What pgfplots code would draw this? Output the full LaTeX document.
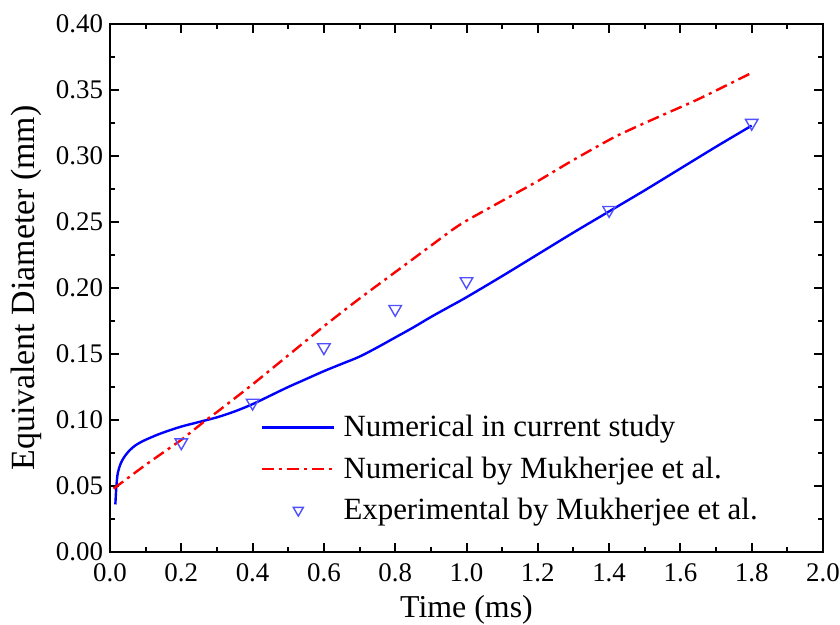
\documentclass[border=0pt]{standalone}
\usepackage{fontspec}
\setmainfont{Liberation Serif}
\usepackage{pgfplots}
\pgfplotsset{compat=1.18}
\definecolor{lineblue}{RGB}{0,0,255}
\definecolor{markblue}{RGB}{80,80,255}
\definecolor{linered}{RGB}{255,0,0}
\pgfplotsset{
  linelegend/.style={legend image code/.code={\draw[##1] (0bp,0bp) -- (36bp,0bp);}},
  marklegend/.style={legend image code/.code={\draw[##1, mark size=2.9bp] plot coordinates {(18bp,0bp)};}},
}
\begin{document}
\begin{tikzpicture}
\begin{axis}[
  scale only axis,
  width=356.5bp, height=264bp,
  xmin=0, xmax=2.0, ymin=0, ymax=0.40,
  xtick={0,0.2,...,2.01}, ytick={0,0.05,...,0.401},
  minor x tick num=1, minor y tick num=1,
  tick align=inside,
  major tick length=4.5bp, minor tick length=2.5bp,
  axis line style={line width=1.1bp},
  every tick/.style={black, line width=1bp},
  /pgf/number format/assume math mode=true,
  xticklabel style={yshift=-2.5bp, /pgf/number format/.cd, fixed, fixed zerofill, precision=1},
  yticklabel style={/pgf/number format/.cd, fixed, fixed zerofill, precision=2},
  tick label style={font=\fontsize{13.5}{15}\selectfont},
  xlabel={Time (ms)}, ylabel={Equivalent Diameter (mm)},
  xlabel style={font=\fontsize{16}{18}\selectfont, yshift=0.5bp},
  ylabel style={font=\fontsize{17}{19}\selectfont, xshift=0bp},
  legend style={at={(rel axis cs:0.203,0.04)}, anchor=south west, draw=none, fill=none,
    font=\fontsize{15.5}{18}\selectfont, row sep=4.5bp,
    nodes={inner xsep=4bp}},
  legend cell align=left,
]
\addplot[lineblue, line width=1.2bp, smooth, tension=0.5, linelegend] coordinates {
(0.015,0.036)(0.018,0.05)(0.022,0.06)(0.03,0.067)(0.04,0.072)(0.055,0.077)(0.07,0.0805)
(0.085,0.083)(0.1,0.085)(0.13,0.0885)(0.16,0.0915)(0.2,0.095)(0.25,0.0985)(0.3,0.102)(0.35,0.1065)
(0.4,0.112)(0.45,0.1185)(0.5,0.125)(0.55,0.131)(0.6,0.137)(0.65,0.1425)(0.7,0.148)
(0.75,0.155)(0.8,0.1625)(0.85,0.170)(0.9,0.178)(0.95,0.1855)(1.0,0.193)(1.1,0.209)
(1.2,0.2255)(1.3,0.242)(1.4,0.258)(1.5,0.274)(1.6,0.2905)(1.7,0.307)(1.8,0.323)};
\addlegendentry{Numerical in current study}
\addplot[linered, line width=1.2bp, dash pattern=on 6bp off 2.5bp on 1.5bp off 2.5bp, smooth, tension=0.4, linelegend] coordinates {
(0.01,0.048)(0.05,0.056)(0.1,0.066)(0.15,0.0755)(0.2,0.085)(0.27,0.1)(0.3,0.106)
(0.4,0.127)(0.5,0.149)(0.6,0.171)(0.7,0.192)(0.8,0.212)(0.9,0.232)(0.96,0.244)
(1.0,0.251)(1.1,0.266)(1.2,0.281)(1.3,0.297)(1.42,0.315)(1.55,0.331)(1.65,0.343)(1.8,0.363)};
\addlegendentry{Numerical by Mukherjee et al.}
\addplot[only marks, mark=triangle, mark options={rotate=180, draw=markblue, fill=none, line width=0.7bp}, mark size=3.6bp, marklegend] coordinates {
(0.2,0.083)(0.4,0.113)(0.6,0.155)(0.8,0.184)(1.0,0.205)(1.4,0.259)(1.8,0.325)};
\addlegendentry{Experimental by Mukherjee et al.}
\end{axis}
\pgfresetboundingbox
\path ([shift={(-55bp,-36.5bp)}]current axis.south west) rectangle ([shift={(8.5bp,12bp)}]current axis.north east);
\end{tikzpicture}
\end{document}
